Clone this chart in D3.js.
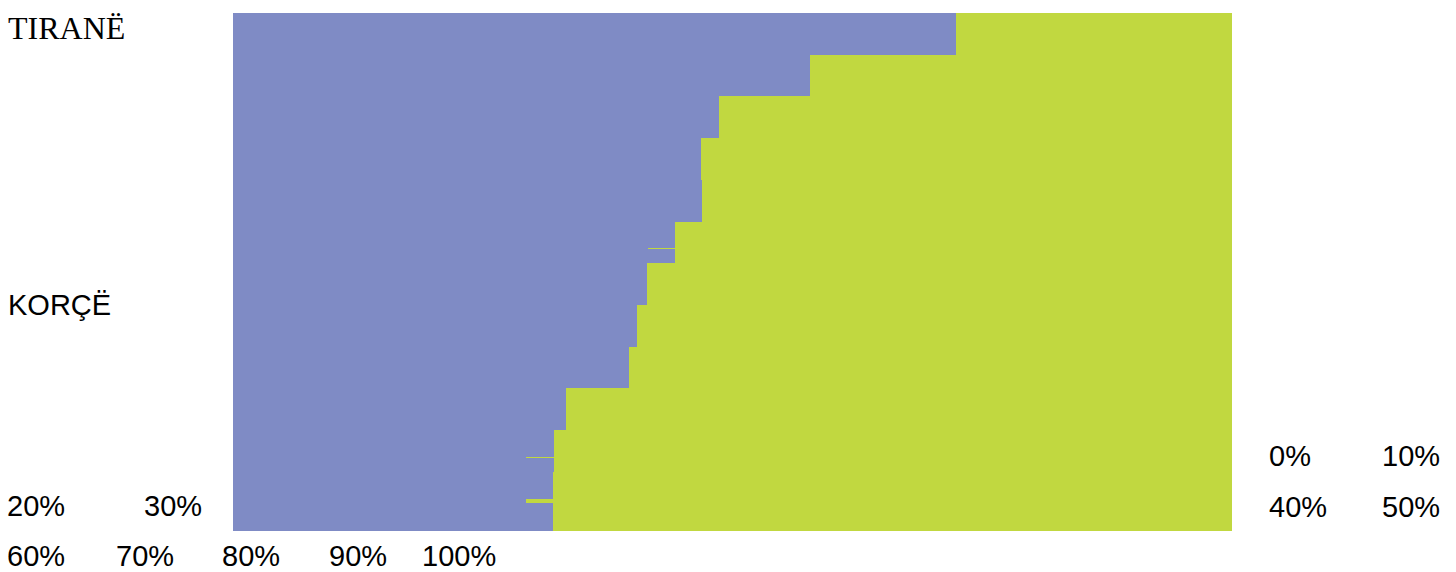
<!DOCTYPE html>
<html>
<head>
<meta charset="utf-8">
<script src="https://cdn.jsdelivr.net/npm/d3@7"></script>
<style>
  html, body { margin: 0; padding: 0; background: #ffffff; }
  svg { display: block; }
</style>
</head>
<body>
<svg id="chart" width="1456" height="572"></svg>
<script>
// ---- data ----
// share (%) of the first (blue) series per row; the rest (to 100%) is the second (green) series
const rowIndex = [0, 1, 2, 3, 4, 5, 6, 7, 8, 9, 10, 11, 12];
const shareBlue = [72.37, 57.76, 48.65, 46.85, 46.95, 44.24, 41.44, 40.44, 39.64, 33.33, 32.13, 32.03, 32.03];
// thin slivers of the green series visible between rows (row-unit start, row-unit span, blue share %)
const sliverStart = [5.635, 10.647, 11.655];
const sliverSpan  = [0.024, 0.024, 0.096];
const sliverShare = [41.54, 29.33, 29.33];
const rowLabels = ["TIRANË", "KORÇË"];
const tickValues = [0, 10, 20, 30, 40, 50, 60, 70, 80, 90, 100];

// ---- layout ----
const colorBlue = "#7f8bc5";
const colorGreen = "#c1d840";
const plot = { left: 233, right: 1232, top: 13, bottom: 531 };
const rowsVisible = (plot.bottom - plot.top) / 41.7;

const svg = d3.select("#chart");
const x = d3.scaleLinear().domain([0, 100]).range([plot.left, plot.right]);
const y = d3.scaleLinear().domain([0, rowsVisible]).range([plot.top, plot.bottom]);

const g = svg.append("g").attr("shape-rendering", "crispEdges");

const rows = rowIndex.map((r, i) => ({ r, v: shareBlue[i] }));
const yTop = d => Math.round(y(d.r));
const yBot = d => Math.round(Math.min(y(d.r + 1), plot.bottom));

g.selectAll("rect.blue").data(rows).join("rect")
  .attr("class", "blue")
  .attr("x", x(0))
  .attr("y", yTop)
  .attr("width", d => x(d.v) - x(0))
  .attr("height", d => yBot(d) - yTop(d))
  .attr("fill", colorBlue);

g.selectAll("rect.green").data(rows).join("rect")
  .attr("class", "green")
  .attr("x", d => x(d.v))
  .attr("y", yTop)
  .attr("width", d => x(100) - x(d.v))
  .attr("height", d => yBot(d) - yTop(d))
  .attr("fill", colorGreen);

const slivers = sliverStart.map((s, i) => ({ s, h: sliverSpan[i], v: sliverShare[i] }));
g.selectAll("rect.sliver").data(slivers).join("rect")
  .attr("class", "sliver")
  .attr("x", d => x(d.v))
  .attr("y", d => Math.round(y(d.s)))
  .attr("width", d => x(100) - x(d.v))
  .attr("height", d => Math.max(1, Math.round(y(d.s + d.h) - y(d.s))))
  .attr("fill", colorGreen);

// ---- row labels ----
svg.append("text")
  .attr("x", 8).attr("y", 39)
  .attr("font-family", "'Liberation Serif', 'Times New Roman', serif")
  .attr("font-size", 32)
  .attr("fill", "#000")
  .text(rowLabels[0]);

svg.append("text")
  .attr("x", 8).attr("y", 315)
  .attr("font-family", "'Liberation Sans', Arial, sans-serif")
  .attr("font-size", 29)
  .attr("fill", "#000")
  .text(rowLabels[1]);

// ---- tick labels (flowed around the chart, as in the original) ----
const tickLayout = [
  [1269, 466], [1382, 466],
  [7, 516], [144, 516], [1269, 517], [1382, 517],
  [7, 566], [116, 566], [222, 566], [329, 566], [422, 566]
];
svg.append("g").selectAll("text").data(tickValues).join("text")
  .attr("x", (d, i) => tickLayout[i][0])
  .attr("y", (d, i) => tickLayout[i][1])
  .attr("font-family", "'Liberation Sans', Arial, sans-serif")
  .attr("font-size", 29)
  .attr("fill", "#000")
  .text(d => d + "%");
</script>
</body>
</html>
